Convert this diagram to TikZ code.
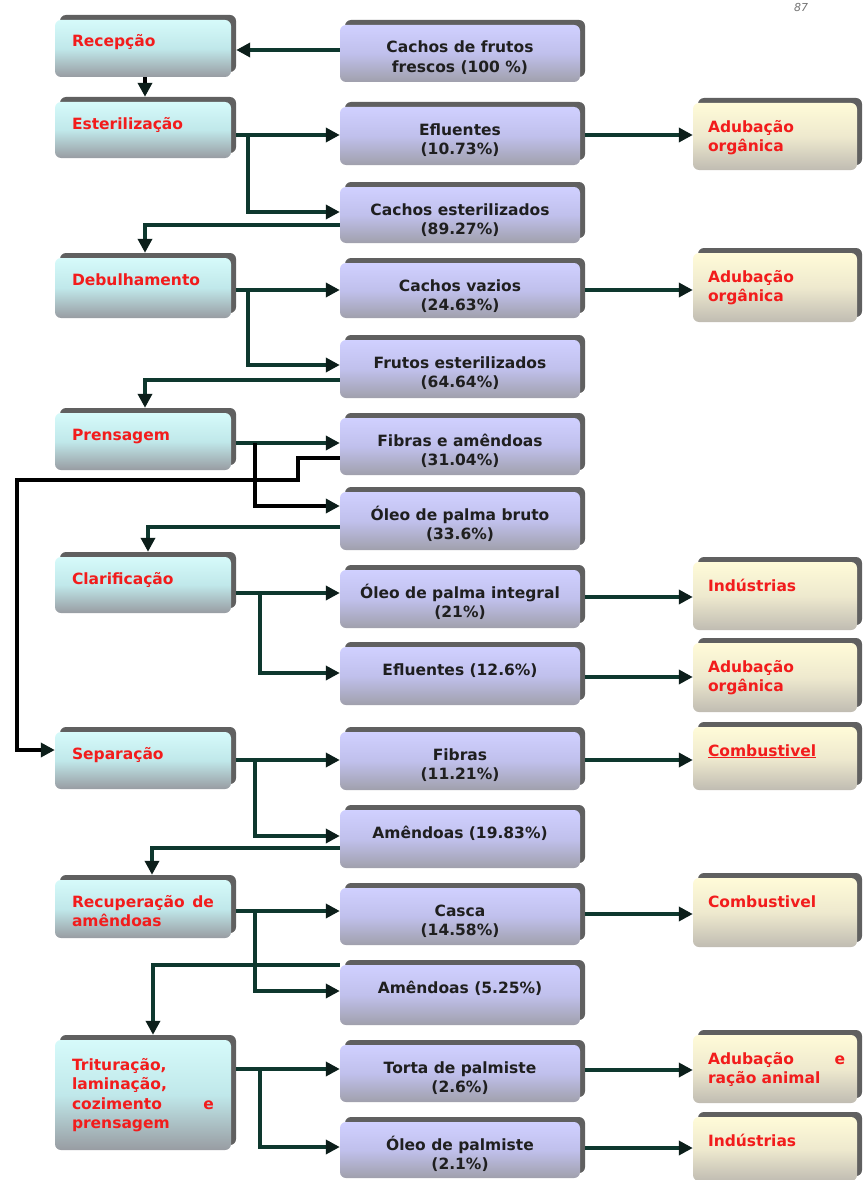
\documentclass[tikz,border=0pt]{standalone}
\usepackage{fontspec}
\newfontfamily\dv{DejaVu Sans}
\usetikzlibrary{arrows.meta,shadows}

\definecolor{lineg}{RGB}{14,56,46}
\definecolor{tipc}{RGB}{12,30,26}
\definecolor{redt}{RGB}{242,28,28}
\definecolor{shadowc}{RGB}{96,96,96}
\definecolor{cyA}{RGB}{214,250,250}
\definecolor{cyB}{RGB}{192,232,234}
\definecolor{cyC}{RGB}{152,156,162}
\definecolor{lvA}{RGB}{208,208,255}
\definecolor{lvB}{RGB}{192,192,236}
\definecolor{lvC}{RGB}{160,160,172}
\definecolor{ywA}{RGB}{255,251,216}
\definecolor{ywB}{RGB}{238,233,206}
\definecolor{ywC}{RGB}{192,188,178}

\newcommand\bxstrut{\rule{0pt}{15pt}}

\begin{document}
\begin{tikzpicture}[x=1pt,y=-1pt,
  box/.style={rounded corners=6pt, inner sep=0pt,
    drop shadow={shadow xshift=5pt,shadow yshift=5pt,fill=shadowc,opacity=1}},
  lbox/.style={box, minimum width=176pt, top color=cyA, bottom color=cyC, middle color=cyB},
  mbox/.style={box, minimum width=240pt, top color=lvA, bottom color=lvC, middle color=lvB},
  rbox/.style={box, minimum width=164pt, top color=ywA, bottom color=ywC, middle color=ywB},
  txt/.style={inner sep=0pt, font=\dv\bfseries\fontsize{15.5}{19.5}\selectfont},
  ltxt/.style={txt, anchor=north west, text width=142pt, align=left, text=redt},
  mtxt/.style={txt, anchor=north, align=center, text=black!88},
  rtxt/.style={txt, anchor=north west, text width=137pt, align=left, text=redt},
  flow/.style={line width=3.6pt, draw=lineg, -{Triangle[length=14pt,width=14pt,color=tipc]}},
  flowk/.style={flow, draw=black}
]
\fill[white] (0,0) rectangle (862,1180);
\useasboundingbox (0,0) rectangle (862,1180);

% page number
\node[font=\dv\itshape\fontsize{11}{13}\selectfont, text=black!55] (pg) at (801,7) {87};

% process steps (left column)
\node[lbox, minimum height=57pt] (rec)  at (143,48.5) {};
\node[lbox, minimum height=56pt] (est)  at (143,130) {};
\node[lbox, minimum height=60pt] (deb)  at (143,288) {};
\node[lbox, minimum height=57pt] (pren) at (143,441.5) {};
\node[lbox, minimum height=56pt] (clar) at (143,585) {};
\node[lbox, minimum height=57pt] (sep)  at (143,760.5) {};
\node[lbox, minimum height=58pt] (recu) at (143,909) {};
\node[lbox, minimum height=110pt] (trit) at (143,1095) {};

% material streams (middle column)
\node[mbox, minimum height=57pt] (cff) at (460,53.5) {};
\node[mbox, minimum height=58pt] (ef1) at (460,136) {};
\node[mbox, minimum height=56pt] (ces) at (460,215) {};
\node[mbox, minimum height=55pt] (cva) at (460,290.5) {};
\node[mbox, minimum height=58pt] (fes) at (460,369) {};
\node[mbox, minimum height=57pt] (fam) at (460,446.5) {};
\node[mbox, minimum height=58pt] (opb) at (460,521) {};
\node[mbox, minimum height=58pt] (opi) at (460,599) {};
\node[mbox, minimum height=58pt] (ef2) at (460,676) {};
\node[mbox, minimum height=58pt] (fib) at (460,761) {};
\node[mbox, minimum height=58pt] (am1) at (460,839) {};
\node[mbox, minimum height=57pt] (cas) at (460,916.5) {};
\node[mbox, minimum height=60pt] (am2) at (460,995) {};
\node[mbox, minimum height=57pt] (tor) at (460,1073.5) {};
\node[mbox, minimum height=56pt] (olp) at (460,1150) {};

% destinations (right column)
\node[rbox, minimum height=67pt] (ad1)  at (775,136.5) {};
\node[rbox, minimum height=69pt] (ad2)  at (775,287.5) {};
\node[rbox, minimum height=68pt] (ind1) at (775,596) {};
\node[rbox, minimum height=69pt] (ad3)  at (775,677.5) {};
\node[rbox, minimum height=63pt] (cb1)  at (775,758.5) {};
\node[rbox, minimum height=69pt] (cb2)  at (775,912.5) {};
\node[rbox, minimum height=68pt] (adr)  at (775,1069) {};
\node[rbox, minimum height=64pt] (ind2) at (775,1149) {};

% labels
\node[ltxt] (rec-t)  at ([xshift=17pt,yshift=-12pt]rec.north west)  {\bxstrut Recepção};
\node[ltxt] (est-t)  at ([xshift=17pt,yshift=-12pt]est.north west)  {\bxstrut Esterilização};
\node[ltxt] (deb-t)  at ([xshift=17pt,yshift=-12pt]deb.north west)  {\bxstrut Debulhamento};
\node[ltxt] (pren-t) at ([xshift=17pt,yshift=-12pt]pren.north west) {\bxstrut Prensagem};
\node[ltxt] (clar-t) at ([xshift=17pt,yshift=-12pt]clar.north west) {\bxstrut Clarificação};
\node[ltxt] (sep-t)  at ([xshift=17pt,yshift=-12pt]sep.north west)  {\bxstrut Separação};
\node[ltxt] (recu-t) at ([xshift=17pt,yshift=-12pt]recu.north west) {\bxstrut Recuperação\hfill de\\amêndoas};
\node[ltxt] (trit-t) at ([xshift=17pt,yshift=-15pt]trit.north west) {\bxstrut Trituração,\\laminação,\\cozimento\hfill e\\prensagem};

\node[mtxt] (cff-t) at ([yshift=-13pt]cff.north) {\bxstrut Cachos de frutos\\frescos (100 \%)};
\node[mtxt] (ef1-t) at ([yshift=-13pt]ef1.north) {\bxstrut Efluentes\\(10.73\%)};
\node[mtxt] (ces-t) at ([yshift=-13pt]ces.north) {\bxstrut Cachos esterilizados\\(89.27\%)};
\node[mtxt] (cva-t) at ([yshift=-13pt]cva.north) {\bxstrut Cachos vazios\\(24.63\%)};
\node[mtxt] (fes-t) at ([yshift=-13pt]fes.north) {\bxstrut Frutos esterilizados\\(64.64\%)};
\node[mtxt] (fam-t) at ([yshift=-13pt]fam.north) {\bxstrut Fibras e amêndoas\\(31.04\%)};
\node[mtxt] (opb-t) at ([yshift=-13pt]opb.north) {\bxstrut Óleo de palma bruto\\(33.6\%)};
\node[mtxt] (opi-t) at ([yshift=-13pt]opi.north) {\bxstrut Óleo de palma integral\\(21\%)};
\node[mtxt] (ef2-t) at ([yshift=-13pt]ef2.north) {\bxstrut Efluentes (12.6\%)};
\node[mtxt] (fib-t) at ([yshift=-13pt]fib.north) {\bxstrut Fibras\\(11.21\%)};
\node[mtxt] (am1-t) at ([yshift=-13pt]am1.north) {\bxstrut Amêndoas (19.83\%)};
\node[mtxt] (cas-t) at ([yshift=-13pt]cas.north) {\bxstrut Casca\\(14.58\%)};
\node[mtxt] (am2-t) at ([yshift=-13pt]am2.north) {\bxstrut Amêndoas (5.25\%)};
\node[mtxt] (tor-t) at ([yshift=-13pt]tor.north) {\bxstrut Torta de palmiste\\(2.6\%)};
\node[mtxt] (olp-t) at ([yshift=-13pt]olp.north) {\bxstrut Óleo de palmiste\\(2.1\%)};

\node[rtxt] (ad1-t)  at ([xshift=15pt,yshift=-14pt]ad1.north west)  {\bxstrut Adubação\\orgânica};
\node[rtxt] (ad2-t)  at ([xshift=15pt,yshift=-14pt]ad2.north west)  {\bxstrut Adubação\\orgânica};
\node[rtxt] (ind1-t) at ([xshift=15pt,yshift=-14pt]ind1.north west) {\bxstrut Indústrias};
\node[rtxt] (ad3-t)  at ([xshift=15pt,yshift=-14pt]ad3.north west)  {\bxstrut Adubação\\orgânica};
\node[rtxt] (cb1-t)  at ([xshift=15pt,yshift=-14pt]cb1.north west)  {\bxstrut \underline{Combustivel}};
\node[rtxt] (cb2-t)  at ([xshift=15pt,yshift=-14pt]cb2.north west)  {\bxstrut Combustivel};
\node[rtxt] (adr-t)  at ([xshift=15pt,yshift=-14pt]adr.north west)  {\bxstrut Adubação\hfill e\\ração animal};
\node[rtxt] (ind2-t) at ([xshift=15pt,yshift=-14pt]ind2.north west) {\bxstrut Indústrias};

% junction points of the long return line
\coordinate (j1) at (298,480);
\coordinate (j2) at (17,480);

% connectors
\draw[flow] (cff.west |- 0,50) -- ([xshift=5pt]rec.east |- 0,50);
\draw[flowk] ([xshift=2pt]rec.south) -- ([xshift=2pt,yshift=5pt]est.north);

\draw[flow] ([xshift=5pt]est.east |- 0,135) -- (ef1.west |- 0,135);
\draw[flow] ([xshift=17pt]est.east |- 0,135) |- (ces.west |- 0,212);
\draw[flow] ([xshift=5pt]ef1.east |- 0,135) -- (ad1.west |- 0,135);
\draw[flow] (ces.west |- 0,225) -| ([xshift=2pt,yshift=5pt]deb.north);

\draw[flow] ([xshift=5pt]deb.east |- 0,290) -- (cva.west |- 0,290);
\draw[flow] ([xshift=17pt]deb.east |- 0,290) |- (fes.west |- 0,365);
\draw[flow] ([xshift=5pt]cva.east |- 0,290) -- (ad2.west |- 0,290);
\draw[flow] (fes.west |- 0,380) -| ([xshift=2pt,yshift=5pt]pren.north);

\draw[flow] ([xshift=5pt]pren.east |- 0,443) -- (fam.west |- 0,443);
\draw[flowk] ([xshift=24pt]pren.east |- 0,443) |- (opb.west |- 0,506);
\draw[flowk] (fam.west |- 0,458) -| (j1) -- (j2) |- (sep.west |- 0,750);
\draw[flow] (opb.west |- 0,527) -| ([xshift=5pt,yshift=5pt]clar.north);

\draw[flow] ([xshift=5pt]clar.east |- 0,593) -- (opi.west |- 0,593);
\draw[flow] ([xshift=29pt]clar.east |- 0,593) |- (ef2.west |- 0,673);
\draw[flow] ([xshift=5pt]opi.east |- 0,597) -- (ind1.west |- 0,597);
\draw[flow] ([xshift=5pt]ef2.east |- 0,677) -- (ad3.west |- 0,677);

\draw[flow] ([xshift=5pt]sep.east |- 0,760) -- (fib.west |- 0,760);
\draw[flow] ([xshift=24pt]sep.east |- 0,760) |- (am1.west |- 0,836);
\draw[flow] ([xshift=5pt]fib.east |- 0,760) -- (cb1.west |- 0,760);
\draw[flow] (am1.west |- 0,848) -| ([xshift=9pt,yshift=5pt]recu.north);

\draw[flow] ([xshift=5pt]recu.east |- 0,911) -- (cas.west |- 0,911);
\draw[flow] ([xshift=24pt]recu.east |- 0,911) |- (am2.west |- 0,991);
\draw[flow] ([xshift=5pt]cas.east |- 0,914) -- (cb2.west |- 0,914);
\draw[flow] (am2.west |- 0,965) -| ([xshift=10pt,yshift=5pt]trit.north);

\draw[flow] ([xshift=5pt]trit.east |- 0,1069) -- (tor.west |- 0,1069);
\draw[flow] ([xshift=29pt]trit.east |- 0,1069) |- (olp.west |- 0,1147);
\draw[flow] ([xshift=5pt]tor.east |- 0,1070) -- (adr.west |- 0,1070);
\draw[flow] ([xshift=5pt]olp.east |- 0,1148) -- (ind2.west |- 0,1148);
\end{tikzpicture}
\end{document}
